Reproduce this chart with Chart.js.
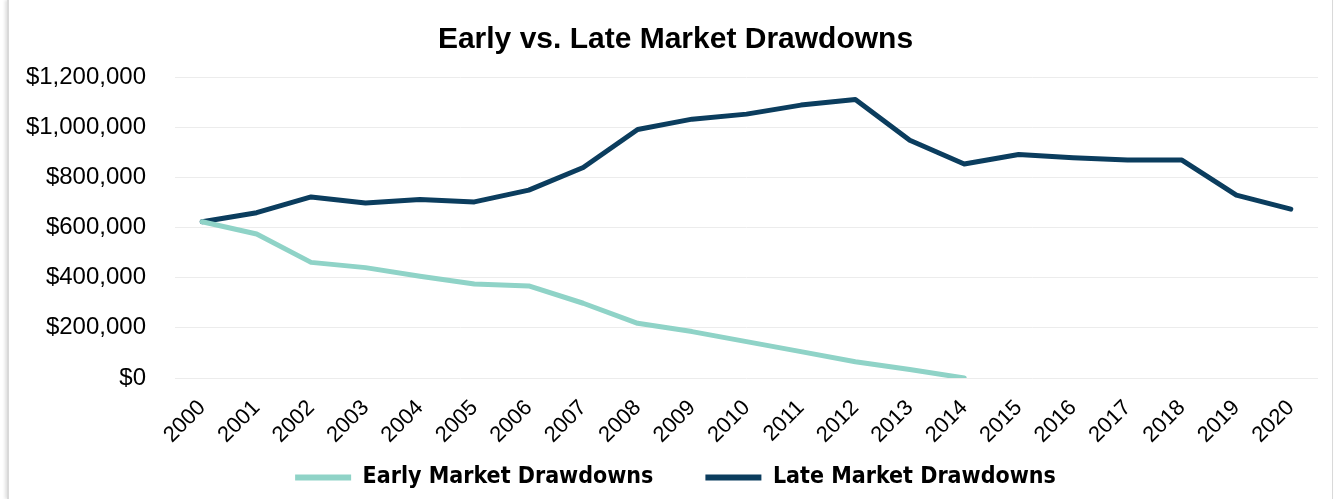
<!DOCTYPE html>
<html>
<head>
<meta charset="utf-8">
<script src="https://cdn.jsdelivr.net/npm/chart.js@4/dist/chart.umd.min.js"></script>
<style>
  html, body { margin: 0; padding: 0; background: #fff; }
  .frame {
    position: absolute; left: 7px; top: 0; width: 1326px; height: 499px;
    border-left: 2px solid #d9d9d9; border-right: 1px solid #d9d9d9;
    box-shadow: -2px 0 3px rgba(0,0,0,0.12);
    box-sizing: border-box;
  }
  .wrap { position: absolute; left: 0; top: 0; width: 1335px; height: 499px; }
</style>
</head>
<body>
<div class="frame"></div>
<div class="wrap"><canvas id="myChart" width="1335" height="499"></canvas></div>
<script>
(function () {
  "use strict";

  // data
  const years = ["2000", "2001", "2002", "2003", "2004", "2005", "2006", "2007", "2008", "2009", "2010",
    "2011", "2012", "2013", "2014", "2015", "2016", "2017", "2018", "2019", "2020"];
  const earlyDrawdowns = [623000, 574000, 461000, 440000, 406000, 375000, 367000, 298000, 218000, 185000,
    145000, 105000, 65000, 34000, 0, null, null, null, null, null, null];
  const lateDrawdowns = [623000, 659000, 722000, 698000, 712000, 702000, 749000, 839000, 991000, 1032000,
    1052000, 1088000, 1110000, 948000, 853000, 891000, 878000, 869000, 869000, 729000, 673000];
  const yTicks = [0, 200000, 400000, 600000, 800000, 1000000, 1200000];

  const ctx = document.getElementById("myChart");
  const labelFont = "'Liberation Sans', Arial, Helvetica, sans-serif";

  // tick labels may run outside their axis box (we squeeze the boxes below)
  function noLabelClip(scale) {
    scale._computeLabelArea = function () { return undefined; };
  }

  new Chart(ctx, {
    type: "line",
    data: {
      labels: years,
      datasets: [
        {
          label: "Early Market Drawdowns",
          data: earlyDrawdowns,
          borderColor: "#8fd3c7",
          backgroundColor: "#8fd3c7",
          borderWidth: 5,
          pointRadius: 0,
          tension: 0,
          borderCapStyle: "round",
          borderJoinStyle: "round",
        },
        {
          label: "Late Market Drawdowns",
          data: lateDrawdowns,
          borderColor: "#0b3d5e",
          backgroundColor: "#0b3d5e",
          borderWidth: 5,
          pointRadius: 0,
          tension: 0,
          borderCapStyle: "round",
          borderJoinStyle: "round",
        },
      ],
    },
    options: {
      responsive: false,
      animation: false,
      layout: { padding: { left: 33, right: 17, top: 22, bottom: 0 } },
      plugins: {
        title: {
          display: true,
          text: "Early vs. Late Market Drawdowns",
          color: "#000",
          font: { family: labelFont, size: 30, weight: "bold" },
          padding: { top: 0, bottom: 19 },
        },
        legend: {
          position: "bottom",
          labels: {
            color: "#000",
            boxWidth: 56,
            boxHeight: 6,
            padding: 52,
            font: { family: "'DejaVu Sans Condensed', " + labelFont, size: 23, weight: "bold" },
            generateLabels: function (chart) {
              const items = Chart.defaults.plugins.legend.labels.generateLabels(chart);
              items.forEach((it) => { it.lineWidth = 0; });
              return items;
            },
          },
        },
        tooltip: { enabled: false },
      },
      scales: {
        x: {
          offset: true,
          afterFit: function (scale) {
            scale.height = 36;
            noLabelClip(scale);
          },
          grid: { display: false },
          border: { display: false },
          ticks: {
            color: "#000",
            minRotation: 45,
            maxRotation: 45,
            padding: 9,
            font: { family: labelFont, size: 22 },
          },
        },
        y: {
          min: 0,
          max: 1200000,
          afterFit: function (scale) {
            scale.width = 142;
            noLabelClip(scale);
          },
          afterBuildTicks: function (scale) {
            scale.ticks = yTicks.map((v) => ({ value: v }));
          },
          grid: { color: "#ececec", lineWidth: 1, drawTicks: false },
          border: { display: false },
          ticks: {
            color: "#000",
            padding: 29,
            font: { family: labelFont, size: 24 },
            callback: function (v) {
              return "$" + Number(v).toLocaleString("en-US");
            },
          },
        },
      },
    },
  });
})();
</script>
</body>
</html>
